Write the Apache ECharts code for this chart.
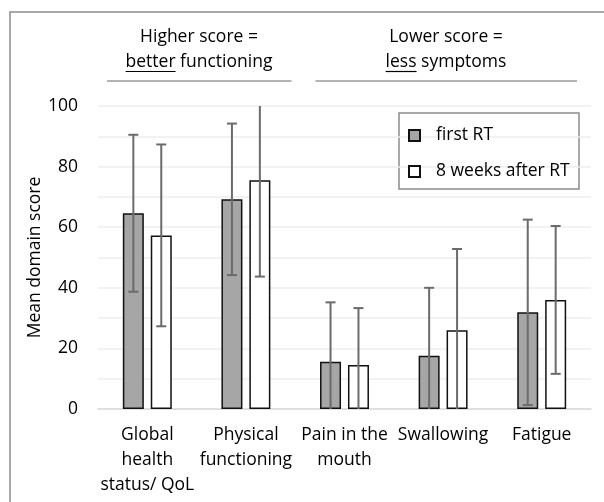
<!DOCTYPE html>
<html>
<head>
<meta charset="utf-8">
<script src="https://cdn.jsdelivr.net/npm/echarts@6/dist/echarts.min.js"></script>
<style>html,body{margin:0;padding:0;background:#fff;}#c{width:604px;height:502px;}</style>
</head>
<body>
<div id="c"></div>
<script>
const categories = ['Global\nhealth\nstatus/ QoL', 'Physical\nfunctioning', 'Pain in the\nmouth', 'Swallowing', 'Fatigue'];
const seriesNames = ['first RT', '8 weeks after RT'];
const meanFirst = [64.6, 69.2, 15.6, 17.6, 31.9];
const sdFirst   = [25.9, 25.0, 19.6, 22.4, 30.6];
const meanAfter = [57.3, 75.5, 14.5, 26.0, 36.0];
const sdAfter   = [30.0, 31.8, 18.8, 26.8, 24.4];
const yMin = 0, yMax = 100, yInterval = 20;
const headerLeft = ['Higher score =', 'better', ' functioning'];
const headerRight = ['Lower score =', 'less', ' symptoms'];

const FONT = '"Open Sans", "Noto Sans", sans-serif';
const FS = 17.5;
const ctx = document.createElement('canvas').getContext('2d');
ctx.font = FS + 'px "Open Sans"';
function tw(s) { return ctx.measureText(s).width; }

const BAR_W = 21, BAR_GAP = 0.33;
const offs = (BAR_W * (1 + BAR_GAP)) / 2;

function errData(mean, sd) {
  return mean.map((m, i) => [i, m - sd[i], m + sd[i]]);
}
function errRender(sign) {
  return function (params, api) {
    const i = api.value(0);
    const lo = api.coord([i, api.value(1)]);
    const hi = api.coord([i, api.value(2)]);
    const x = lo[0] + sign * offs;
    const st = { stroke: '#6b6b6b', lineWidth: 2 };
    return {
      type: 'group',
      children: [
        { type: 'line', shape: { x1: x, y1: lo[1], x2: x, y2: hi[1] }, style: st },
        { type: 'line', shape: { x1: x - 5, y1: hi[1], x2: x + 5, y2: hi[1] }, style: st },
        { type: 'line', shape: { x1: x - 5, y1: lo[1], x2: x + 5, y2: lo[1] }, style: st }
      ]
    };
  };
}

function header(parts, cx) {
  const l2 = parts[1] + parts[2];
  const w = tw(l2), wb = tw(parts[1]);
  const x0 = cx - w / 2;
  return [
    { type: 'text', x: cx, y: 37, style: { text: parts[0], font: FS + 'px ' + FONT, fill: '#000', align: 'center', verticalAlign: 'middle' } },
    { type: 'text', x: cx, y: 62, style: { text: l2, font: FS + 'px ' + FONT, fill: '#000', align: 'center', verticalAlign: 'middle' } },
    { type: 'line', shape: { x1: x0, y1: 71.5, x2: x0 + wb, y2: 71.5 }, style: { stroke: '#000', lineWidth: 1.2 } }
  ];
}

const chart = echarts.init(document.getElementById('c'));
chart.setOption({
  animation: false,
  textStyle: { fontFamily: FONT },
  grid: { left: 98, right: 13, top: 106, bottom: 93 },
  legend: {
    orient: 'vertical', left: 408, top: 125, padding: 0,
    itemWidth: 11, itemHeight: 11, itemGap: 15, icon: 'rect',
    textStyle: { fontSize: FS, color: '#000', lineHeight: 21, padding: [0, 0, 0, 11], fontFamily: FONT },
    data: seriesNames
  },
  xAxis: {
    type: 'category', data: categories,
    axisLine: { lineStyle: { color: '#d9d9d9', width: 1.5 } },
    axisTick: { show: false },
    axisLabel: { color: '#000', fontSize: FS, lineHeight: 25, margin: 14, interval: 0, fontFamily: FONT }
  },
  yAxis: {
    type: 'value', min: yMin, max: yMax, interval: yInterval,
    name: 'Mean domain score', nameLocation: 'middle', nameGap: 54, nameRotate: 90,
    nameMoveOverlap: false,
    nameTextStyle: { color: '#000', fontSize: FS, fontFamily: FONT },
    axisLine: { show: false }, axisTick: { show: false },
    axisLabel: { color: '#000', fontSize: FS, margin: 20, fontFamily: FONT },
    splitLine: { lineStyle: { color: '#eeeeee', width: 1.5 } },
    minorTick: { show: false, splitNumber: 2 },
    minorSplitLine: { show: true, lineStyle: { color: '#eeeeee', width: 1.5 } }
  },
  series: [
    { name: seriesNames[0], type: 'bar', data: meanFirst, barWidth: BAR_W, barGap: (BAR_GAP * 100) + '%',
      itemStyle: { color: '#a6a6a6', borderColor: '#111', borderWidth: 1.5 } },
    { name: seriesNames[1], type: 'bar', data: meanAfter, barWidth: BAR_W, barGap: (BAR_GAP * 100) + '%',
      itemStyle: { color: '#ffffff', borderColor: '#111', borderWidth: 1.5 } },
    { type: 'custom', data: errData(meanFirst, sdFirst), renderItem: errRender(-1), clip: true, z: 5,
      encode: { x: 0, y: [1, 2] }, tooltip: { show: false } },
    { type: 'custom', data: errData(meanAfter, sdAfter), renderItem: errRender(1), clip: true, z: 5,
      encode: { x: 0, y: [1, 2] }, tooltip: { show: false } }
  ],
  graphic: [
    { type: 'rect', shape: { x: 10, y: 12, width: 700, height: 700 }, style: { fill: 'none', stroke: '#8c8c8c', lineWidth: 1.5 }, silent: true },
    { type: 'rect', shape: { x: 399, y: 113, width: 180, height: 76 }, style: { fill: '#fff', stroke: '#8c8c8c', lineWidth: 1.5 }, z: -1, silent: true },
    { type: 'line', shape: { x1: 107, y1: 81, x2: 291.5, y2: 81 }, style: { stroke: '#9a9a9a', lineWidth: 1.5 } },
    { type: 'line', shape: { x1: 315.5, y1: 81, x2: 577, y2: 81 }, style: { stroke: '#9a9a9a', lineWidth: 1.5 } }
  ].concat(header(headerLeft, 199), header(headerRight, 446))
});
</script>
</body>
</html>
